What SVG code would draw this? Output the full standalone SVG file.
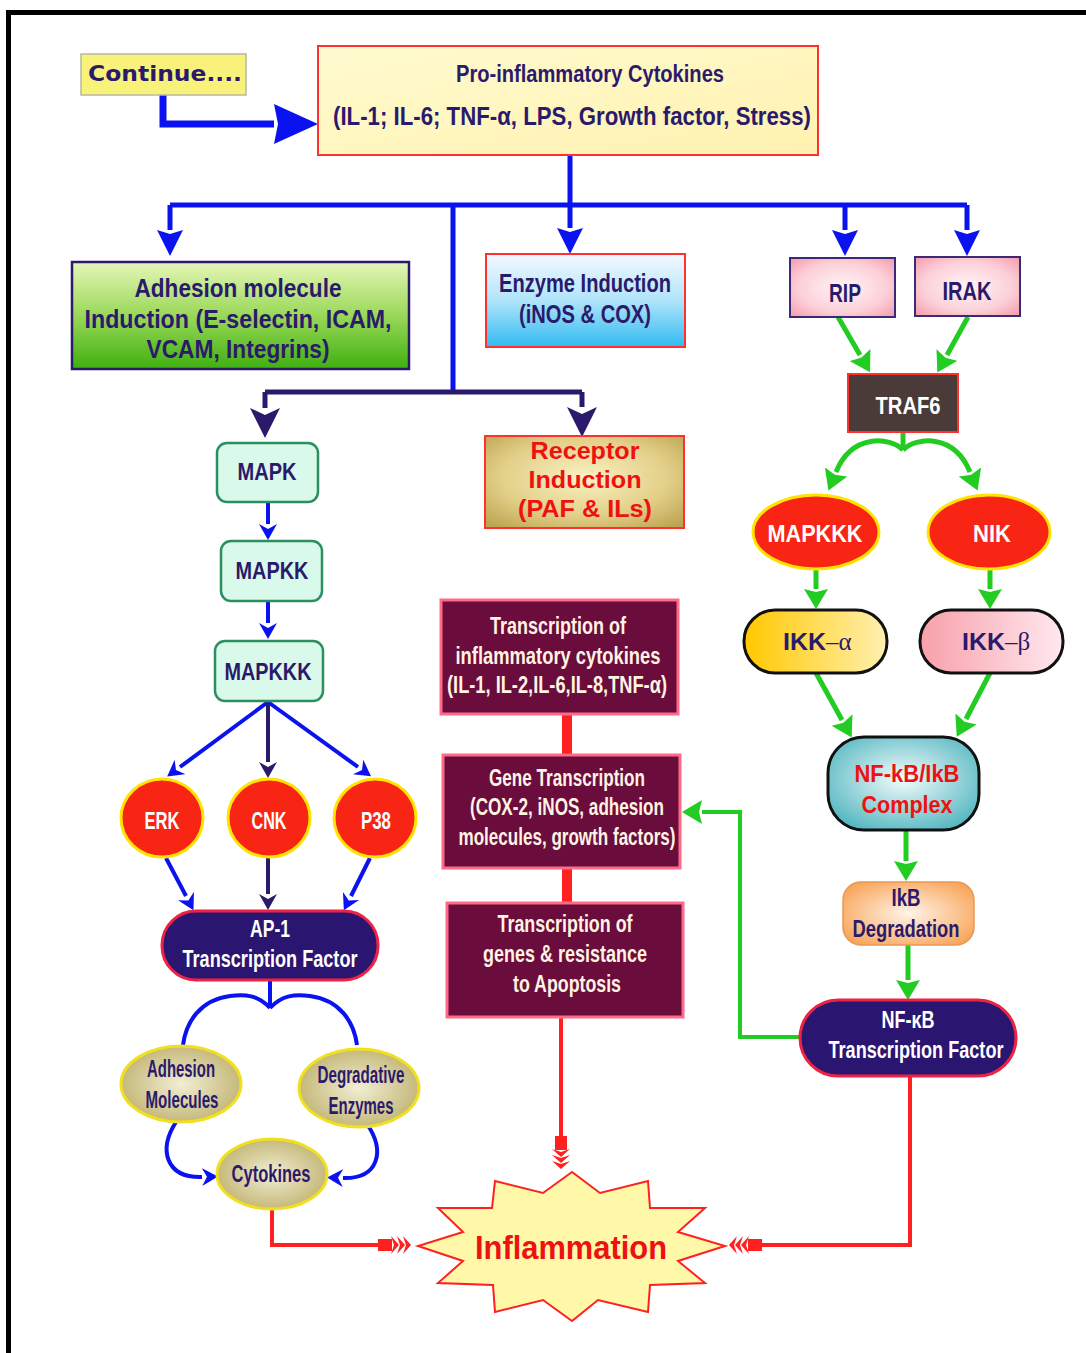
<svg xmlns="http://www.w3.org/2000/svg" width="1086" height="1353" viewBox="0 0 1086 1353">
<defs>
<style>
.t{font-family:"Liberation Sans",Arial,sans-serif;font-weight:bold;text-anchor:middle}
.navy{fill:#2b1a6b}
.wh{fill:#ffffff}
.cr{fill:#fff3e2}
.rd{fill:#ee1111}
.sym{font-family:"Liberation Serif","DejaVu Serif",serif;font-weight:normal;fill:#2b1a6b}
.blue{fill:none;stroke:#0a12f0;stroke-width:5}
.nv{fill:none;stroke:#2b1a6b;stroke-width:5}
.grn{fill:none;stroke:#22cc22;stroke-width:5}
.red{fill:none;stroke:#ff2020;stroke-width:4}
.maroon{fill:#6a0c3c;stroke:#ff6a88;stroke-width:3}
.mint{fill:#d9f9ea;stroke:#2a9060;stroke-width:2.5}
.redov{fill:#f82414;stroke:#ffe400;stroke-width:3}
.olov{fill:url(#gOl);stroke:#f0e020;stroke-width:3}
.pill{fill:#2a1670;stroke:#ee2244;stroke-width:3}
</style>
<linearGradient id="gPro" x1="0" y1="0" x2="1" y2="1"><stop offset="0" stop-color="#fffbd0"/><stop offset="1" stop-color="#fff2b0"/></linearGradient>
<linearGradient id="gGreen" x1="0" y1="0" x2="0" y2="1"><stop offset="0" stop-color="#e6f6b8"/><stop offset="0.5" stop-color="#9ad858"/><stop offset="1" stop-color="#3fb010"/></linearGradient>
<linearGradient id="gCyan" x1="0" y1="0" x2="0" y2="1"><stop offset="0" stop-color="#f4f8ff"/><stop offset="0.5" stop-color="#b0e4fa"/><stop offset="1" stop-color="#30baf0"/></linearGradient>
<radialGradient id="gPink" cx="0.5" cy="0.5" r="0.7"><stop offset="0" stop-color="#fff4f6"/><stop offset="0.6" stop-color="#fcd0d8"/><stop offset="1" stop-color="#f49aac"/></radialGradient>
<radialGradient id="gRec" cx="0.5" cy="0.45" r="0.7"><stop offset="0" stop-color="#faf2c4"/><stop offset="0.6" stop-color="#e2cf88"/><stop offset="1" stop-color="#bca450"/></radialGradient>
<linearGradient id="gIkA" x1="0" y1="0" x2="1" y2="0"><stop offset="0" stop-color="#ffc800"/><stop offset="1" stop-color="#fff0b0"/></linearGradient>
<linearGradient id="gIkB" x1="0" y1="0" x2="1" y2="0"><stop offset="0" stop-color="#f8a0aa"/><stop offset="1" stop-color="#ffe8ee"/></linearGradient>
<radialGradient id="gCx" cx="0.5" cy="0.45" r="0.6"><stop offset="0" stop-color="#f4fcfc"/><stop offset="1" stop-color="#58b8c2"/></radialGradient>
<radialGradient id="gOr" cx="0.5" cy="0.5" r="0.65"><stop offset="0" stop-color="#fff4ea"/><stop offset="1" stop-color="#f8a050"/></radialGradient>
<radialGradient id="gOl" cx="0.5" cy="0.5" r="0.6"><stop offset="0" stop-color="#f2eed4"/><stop offset="1" stop-color="#bcae68"/></radialGradient>
<marker id="mBlue" markerUnits="userSpaceOnUse" viewBox="0 0 26 26" refX="0" refY="13" markerWidth="26" markerHeight="26" orient="auto"><path d="M0,0 L26,13 L0,26 L4,13 Z" fill="#0a12f0"/></marker>
<marker id="mBlueL" markerUnits="userSpaceOnUse" viewBox="0 0 44 40" refX="0" refY="20" markerWidth="44" markerHeight="40" orient="auto"><path d="M0,0 L44,20 L0,40 L4,20 Z" fill="#0a12f0"/></marker>
<marker id="mNavy" markerUnits="userSpaceOnUse" viewBox="0 0 30 30" refX="0" refY="15" markerWidth="30" markerHeight="30" orient="auto"><path d="M0,0 L30,15 L0,30 L7,15 Z" fill="#2b1a6b"/></marker>
<marker id="mBlueS" markerUnits="userSpaceOnUse" viewBox="0 0 16 18" refX="0" refY="9" markerWidth="16" markerHeight="18" orient="auto"><path d="M0,0 L16,9 L0,18 L5,9 Z" fill="#0a12f0"/></marker>
<marker id="mNavyS" markerUnits="userSpaceOnUse" viewBox="0 0 16 18" refX="0" refY="9" markerWidth="16" markerHeight="18" orient="auto"><path d="M0,0 L16,9 L0,18 L5,9 Z" fill="#2b1a6b"/></marker>
<marker id="mGreen" markerUnits="userSpaceOnUse" viewBox="0 0 20 24" refX="0" refY="12" markerWidth="20" markerHeight="24" orient="auto"><path d="M0,0 L20,12 L0,24 L3,12 Z" fill="#22cc22"/></marker>
<marker id="mFeather" markerUnits="userSpaceOnUse" viewBox="0 -10 36 20" refX="0" refY="0" markerWidth="36" markerHeight="20" orient="auto"><path d="M0,-6 H14 V6 H0 Z M13,-9 L21,0 L13,9 L16,0 Z M19,-9 L27,0 L19,9 L22,0 Z M25,-9 L33,0 L25,9 L28,0 Z" fill="#ff2020"/></marker>
</defs>

<g id="frame">
<rect x="6" y="10" width="1080" height="5" fill="#000"/>
<rect x="6" y="10" width="5" height="1343" fill="#000"/>
</g>

<g id="connectors">
<path d="M163,95 V124 H274" fill="none" stroke="#0a12f0" stroke-width="7" marker-end="url(#mBlueL)"/>
<path class="blue" d="M570,155 V205"/>
<path class="blue" d="M170,205 H967"/>
<path class="blue" d="M170,205 V230" marker-end="url(#mBlue)"/>
<path class="blue" d="M570,205 V228" marker-end="url(#mBlue)"/>
<path class="blue" d="M845,205 V230" marker-end="url(#mBlue)"/>
<path class="blue" d="M967,205 V230" marker-end="url(#mBlue)"/>
<path class="blue" d="M453,205 V392"/>
<path class="nv" d="M265,392 H582"/>
<path class="nv" d="M265,392 V408" marker-end="url(#mNavy)"/>
<path class="nv" d="M582,392 V407" marker-end="url(#mNavy)"/>
<path class="blue" style="stroke-width:4" d="M268,502 V524" marker-end="url(#mBlueS)"/>
<path class="blue" style="stroke-width:4" d="M268,601 V623" marker-end="url(#mBlueS)"/>
<path class="blue" style="stroke-width:4" d="M268,702 L180,767" marker-end="url(#mBlueS)"/>
<path class="nv" style="stroke-width:4" d="M268,702 V762" marker-end="url(#mNavyS)"/>
<path class="blue" style="stroke-width:4" d="M268,702 L358,767" marker-end="url(#mBlueS)"/>
<path class="blue" style="stroke-width:4" d="M166,858 L186,896" marker-end="url(#mBlueS)"/>
<path class="nv" style="stroke-width:4" d="M268,858 V894" marker-end="url(#mNavyS)"/>
<path class="blue" style="stroke-width:4" d="M370,858 L351,896" marker-end="url(#mBlueS)"/>
<path class="blue" style="stroke-width:4" d="M270,980 V1008"/>
<path class="blue" style="stroke-width:4" d="M270,1008 C258,995 245,994 230,996 C200,1000 186,1022 183,1045"/>
<path class="blue" style="stroke-width:4" d="M270,1008 C282,995 295,994 310,996 C340,1000 354,1022 357,1045"/>
<path class="blue" style="stroke-width:4" d="M176,1122 C158,1150 166,1178 202,1177" marker-end="url(#mBlueS)"/>
<path class="blue" style="stroke-width:4" d="M367,1124 C386,1152 378,1179 343,1178" marker-end="url(#mBlueS)"/>
<path class="grn" d="M838,317 L860,355" marker-end="url(#mGreen)"/>
<path class="grn" d="M968,317 L947,355" marker-end="url(#mGreen)"/>
<path class="grn" d="M903,432 V450"/>
<path class="grn" d="M903,450 C890,437 852,433 836,472" marker-end="url(#mGreen)"/>
<path class="grn" d="M903,450 C916,437 954,433 970,472" marker-end="url(#mGreen)"/>
<path class="grn" d="M816,570 V589" marker-end="url(#mGreen)"/>
<path class="grn" d="M990,570 V589" marker-end="url(#mGreen)"/>
<path class="grn" d="M816,673 L842,720" marker-end="url(#mGreen)"/>
<path class="grn" d="M990,673 L966,719" marker-end="url(#mGreen)"/>
<path class="grn" d="M906,830 V861" marker-end="url(#mGreen)"/>
<path class="grn" d="M908,945 V980" marker-end="url(#mGreen)"/>
<path class="grn" style="stroke-width:4" d="M800,1037 H740 V812 H702" marker-end="url(#mGreen)"/>
<path fill="none" stroke="#ff2020" stroke-width="10" d="M567,714 V755 M567,868 V903"/>
<path class="red" d="M561,1017 V1136" marker-end="url(#mFeather)"/>
<path class="red" d="M272,1210 V1245 H378" marker-end="url(#mFeather)"/>
<path class="red" d="M910,1076 V1245 H762" marker-end="url(#mFeather)"/>
</g>

<g id="continue">
<rect x="81" y="54" width="165" height="41" fill="#f9f27a" stroke="#b8b8a0" stroke-width="1.5"/>
<text x="165" y="81" class="navy" style="font-family:'DejaVu Sans',sans-serif;font-weight:bold;text-anchor:middle;font-size:21px" textLength="154" lengthAdjust="spacingAndGlyphs">Continue....</text>
</g>

<g id="proinflammatory">
<rect x="318" y="46" width="500" height="109" fill="url(#gPro)" stroke="#ff3030" stroke-width="2"/>
<text x="590" y="82" class="t navy" font-size="23" textLength="268" lengthAdjust="spacingAndGlyphs">Pro-inflammatory Cytokines</text>
<text x="572" y="125" class="t navy" font-size="25" textLength="478" lengthAdjust="spacingAndGlyphs">(IL-1; IL-6; TNF-α, LPS, Growth factor, Stress)</text>
</g>

<g id="adhesion">
<rect x="72" y="262" width="337" height="107" fill="url(#gGreen)" stroke="#2b1a6b" stroke-width="2.5"/>
<text x="238" y="297" class="t navy" font-size="26" textLength="207" lengthAdjust="spacingAndGlyphs">Adhesion molecule</text>
<text x="238" y="328" class="t navy" font-size="26" textLength="307" lengthAdjust="spacingAndGlyphs">Induction  (E-selectin, ICAM,</text>
<text x="238" y="358" class="t navy" font-size="26" textLength="183" lengthAdjust="spacingAndGlyphs">VCAM, Integrins)</text>
</g>

<g id="enzyme">
<rect x="486" y="254" width="199" height="93" fill="url(#gCyan)" stroke="#ff3030" stroke-width="2"/>
<text x="585" y="292" class="t navy" font-size="25" textLength="172" lengthAdjust="spacingAndGlyphs">Enzyme Induction</text>
<text x="585" y="323" class="t navy" font-size="25" textLength="132" lengthAdjust="spacingAndGlyphs">(iNOS &amp; COX)</text>
</g>

<g id="rip">
<rect x="790" y="258" width="105" height="59" fill="url(#gPink)" stroke="#3a2a7a" stroke-width="2"/>
<text x="845" y="302" class="t navy" font-size="25" textLength="32" lengthAdjust="spacingAndGlyphs">RIP</text>
</g>
<g id="irak">
<rect x="915" y="257" width="105" height="59" fill="url(#gPink)" stroke="#3a2a7a" stroke-width="2"/>
<text x="967" y="300" class="t navy" font-size="25" textLength="49" lengthAdjust="spacingAndGlyphs">IRAK</text>
</g>

<g id="traf6">
<rect x="848" y="374" width="110" height="58" fill="#4a3b39" stroke="#ff3030" stroke-width="2"/>
<text x="908" y="414" class="t wh" font-size="23" textLength="65" lengthAdjust="spacingAndGlyphs">TRAF6</text>
</g>

<g id="mapkkk-r">
<ellipse cx="816" cy="532" rx="63" ry="37" class="redov"/>
<text x="815" y="542" class="t wh" font-size="24" textLength="95" lengthAdjust="spacingAndGlyphs">MAPKKK</text>
</g>
<g id="nik">
<ellipse cx="989" cy="532" rx="61" ry="37" class="redov"/>
<text x="992" y="542" class="t wh" font-size="24" textLength="38" lengthAdjust="spacingAndGlyphs">NIK</text>
</g>

<g id="ikka">
<rect x="744" y="610" width="143" height="63" rx="31" fill="url(#gIkA)" stroke="#111" stroke-width="3"/>
<text x="826" y="650" class="t navy" font-size="24" style="text-anchor:end" textLength="43" lengthAdjust="spacingAndGlyphs">IKK</text>
<text x="826" y="650" class="sym" font-size="25">–α</text>
</g>
<g id="ikkb">
<rect x="920" y="610" width="143" height="63" rx="31" fill="url(#gIkB)" stroke="#111" stroke-width="3"/>
<text x="1005" y="650" class="t navy" font-size="24" style="text-anchor:end" textLength="43" lengthAdjust="spacingAndGlyphs">IKK</text>
<text x="1005" y="650" class="sym" font-size="25">–β</text>
</g>

<g id="complex">
<rect x="828" y="737" width="151" height="93" rx="36" fill="url(#gCx)" stroke="#111" stroke-width="3"/>
<text x="907" y="782" class="t rd" font-size="24" textLength="105" lengthAdjust="spacingAndGlyphs">NF-kB/IkB</text>
<text x="907" y="813" class="t rd" font-size="24" textLength="91" lengthAdjust="spacingAndGlyphs">Complex</text>
</g>

<g id="ikbdeg">
<rect x="843" y="882" width="131" height="63" rx="18" fill="url(#gOr)" stroke="#e89858" stroke-width="1.5"/>
<text x="906" y="906" class="t navy" font-size="24" textLength="29" lengthAdjust="spacingAndGlyphs">IkB</text>
<text x="906" y="937" class="t navy" font-size="24" textLength="107" lengthAdjust="spacingAndGlyphs">Degradation</text>
</g>

<g id="nfkb">
<rect x="800" y="1000" width="216" height="76" rx="38" class="pill"/>
<text x="908" y="1028" class="t wh" font-size="24" textLength="53" lengthAdjust="spacingAndGlyphs">NF-κB</text>
<text x="916" y="1058" class="t wh" font-size="24" textLength="175" lengthAdjust="spacingAndGlyphs">Transcription Factor</text>
</g>

<g id="receptor">
<rect x="485" y="436" width="199" height="92" fill="url(#gRec)" stroke="#ff3030" stroke-width="2"/>
<text x="585" y="459" class="t rd" font-size="23" textLength="109" lengthAdjust="spacingAndGlyphs">Receptor</text>
<text x="585" y="488" class="t rd" font-size="23" textLength="113" lengthAdjust="spacingAndGlyphs">Induction</text>
<text x="585" y="517" class="t rd" font-size="23" textLength="134" lengthAdjust="spacingAndGlyphs">(PAF &amp; ILs)</text>
</g>

<g id="txcyto">
<rect x="441" y="600" width="237" height="114" class="maroon"/>
<text x="558" y="634" class="t cr" font-size="24" textLength="136" lengthAdjust="spacingAndGlyphs">Transcription of</text>
<text x="558" y="664" class="t cr" font-size="24" textLength="205" lengthAdjust="spacingAndGlyphs">inflammatory  cytokines</text>
<text x="557" y="693" class="t cr" font-size="24" textLength="220" lengthAdjust="spacingAndGlyphs">(IL-1, IL-2,IL-6,IL-8,TNF-α)</text>
</g>

<g id="genetx">
<rect x="443" y="755" width="237" height="113" class="maroon"/>
<text x="567" y="786" class="t cr" font-size="24" textLength="156" lengthAdjust="spacingAndGlyphs">Gene Transcription</text>
<text x="567" y="815" class="t cr" font-size="24" textLength="194" lengthAdjust="spacingAndGlyphs">(COX-2, iNOS, adhesion</text>
<text x="567" y="845" class="t cr" font-size="24" textLength="217" lengthAdjust="spacingAndGlyphs">molecules, growth factors)</text>
</g>

<g id="apopt">
<rect x="447" y="903" width="236" height="114" class="maroon"/>
<text x="565" y="932" class="t cr" font-size="24" textLength="135" lengthAdjust="spacingAndGlyphs">Transcription of</text>
<text x="565" y="962" class="t cr" font-size="24" textLength="164" lengthAdjust="spacingAndGlyphs">genes &amp; resistance</text>
<text x="567" y="992" class="t cr" font-size="24" textLength="108" lengthAdjust="spacingAndGlyphs">to Apoptosis</text>
</g>

<g id="mapk">
<rect x="217" y="443" width="101" height="59" rx="10" class="mint"/>
<text x="267" y="480" class="t navy" font-size="24" textLength="59" lengthAdjust="spacingAndGlyphs">MAPK</text>
</g>
<g id="mapkk">
<rect x="221" y="541" width="101" height="60" rx="10" class="mint"/>
<text x="272" y="579" class="t navy" font-size="24" textLength="73" lengthAdjust="spacingAndGlyphs">MAPKK</text>
</g>
<g id="mapkkk-l">
<rect x="215" y="641" width="108" height="60" rx="10" class="mint"/>
<text x="268" y="680" class="t navy" font-size="24" textLength="87" lengthAdjust="spacingAndGlyphs">MAPKKK</text>
</g>

<g id="erk">
<ellipse cx="162" cy="818" rx="41" ry="39" class="redov"/>
<text x="162" y="829" class="t wh" font-size="24" textLength="35" lengthAdjust="spacingAndGlyphs">ERK</text>
</g>
<g id="cnk">
<ellipse cx="269" cy="818" rx="41" ry="39" class="redov"/>
<text x="269" y="829" class="t wh" font-size="24" textLength="35" lengthAdjust="spacingAndGlyphs">CNK</text>
</g>
<g id="p38">
<ellipse cx="375" cy="818" rx="41" ry="39" class="redov"/>
<text x="376" y="829" class="t wh" font-size="24" textLength="30" lengthAdjust="spacingAndGlyphs">P38</text>
</g>

<g id="ap1">
<rect x="162" y="911" width="216" height="69" rx="34" class="pill"/>
<text x="270" y="937" class="t wh" font-size="24" textLength="40" lengthAdjust="spacingAndGlyphs">AP-1</text>
<text x="270" y="967" class="t wh" font-size="24" textLength="175" lengthAdjust="spacingAndGlyphs">Transcription Factor</text>
</g>

<g id="adhmol">
<ellipse cx="181" cy="1084" rx="60" ry="38" class="olov"/>
<text x="181" y="1077" class="t navy" font-size="24" textLength="68" lengthAdjust="spacingAndGlyphs">Adhesion</text>
<text x="182" y="1108" class="t navy" font-size="24" textLength="73" lengthAdjust="spacingAndGlyphs">Molecules</text>
</g>
<g id="degenz">
<ellipse cx="359" cy="1088" rx="60" ry="39" class="olov"/>
<text x="361" y="1083" class="t navy" font-size="24" textLength="87" lengthAdjust="spacingAndGlyphs">Degradative</text>
<text x="361" y="1114" class="t navy" font-size="24" textLength="65" lengthAdjust="spacingAndGlyphs">Enzymes</text>
</g>
<g id="cytokines">
<ellipse cx="272" cy="1174" rx="55" ry="35" class="olov"/>
<text x="271" y="1182" class="t navy" font-size="24" textLength="79" lengthAdjust="spacingAndGlyphs">Cytokines</text>
</g>

<g id="inflammation">
<polygon points="572,1172 543,1193 495,1181 492,1208 438,1208 463,1232 418,1246 463,1261 438,1283 493,1285 495,1312 543,1300 572,1321 598,1300 648,1312 650,1285 705,1283 678,1261 725,1246 678,1232 705,1208 650,1208 648,1181 600,1193" fill="#fff8a8" stroke="#ff2020" stroke-width="2"/>
<text x="571" y="1259" class="t rd" font-size="33" textLength="192" lengthAdjust="spacingAndGlyphs">Inflammation</text>
</g>
</svg>
